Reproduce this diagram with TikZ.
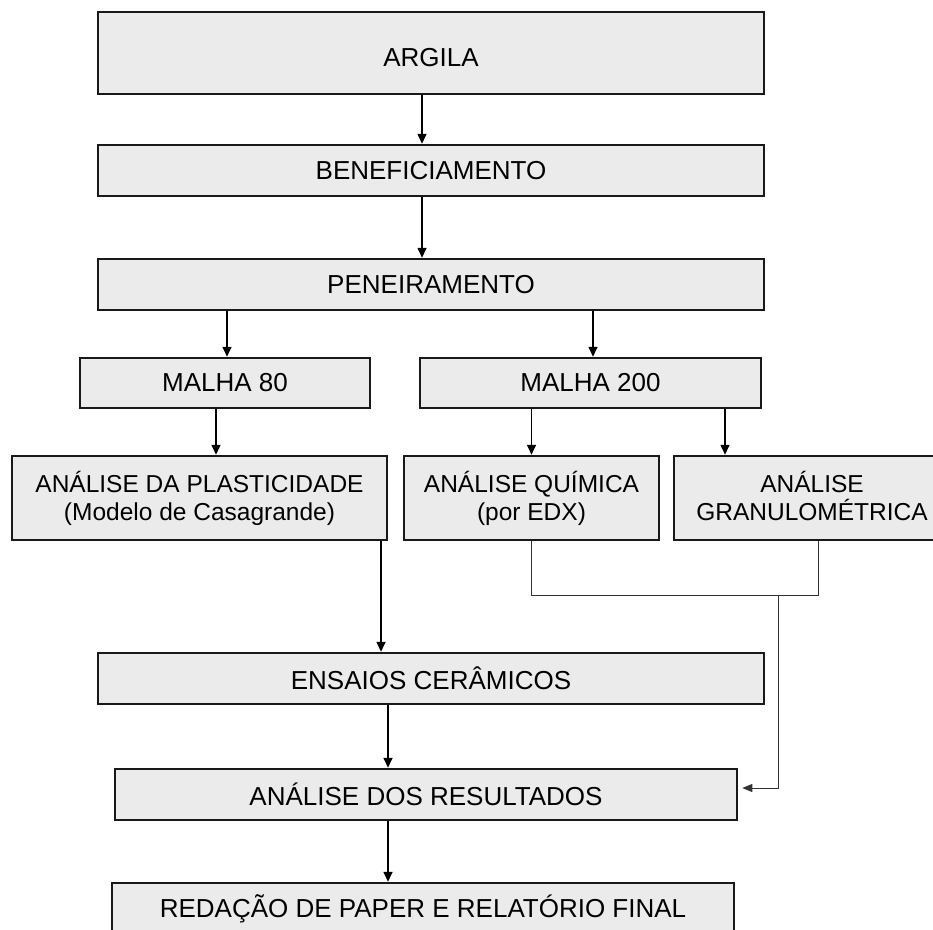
\documentclass[tikz,border=0pt]{standalone}
\usepackage{fontspec}
\setmainfont{Liberation Sans}
\usetikzlibrary{arrows.meta}
\definecolor{boxfill}{RGB}{235,235,235}
\definecolor{edge}{RGB}{25,25,25}
\begin{document}
\begin{tikzpicture}[x=1pt,y=-1pt,
  box/.style={draw=edge, line width=2.5pt, fill=boxfill, inner sep=0pt, align=center, font=\fontsize{26}{30}\selectfont},
  small/.style={font=\fontsize{24.5}{28}\selectfont},
  arr/.style={draw=black, line width=1.6pt, -{Triangle[length=10pt,width=9pt]}},
  thinline/.style={draw=black!80, line width=1pt},
  thinarr/.style={draw=black!80, line width=1pt, -{Triangle[length=10pt,width=8pt]}}]
\useasboundingbox (0,0) rectangle (933,929);
\clip (0,0) rectangle (933,929);

\node[box, minimum width=666pt, minimum height=82pt] (argila) at (431,53) {};
\node[font=\fontsize{26}{30}\selectfont] (argilatext) at (431,57.5) {ARGILA};
\node[box, minimum width=666pt, minimum height=51pt] (benef) at (431,170.5) {BENEFICIAMENTO};
\node[box, minimum width=666pt, minimum height=51pt] (pen) at (431,284.5) {PENEIRAMENTO};
\node[box, minimum width=290pt, minimum height=50pt] (m80) at (225,383) {MALHA 80};
\node[box, minimum width=341pt, minimum height=50pt] (m200) at (590.5,383) {MALHA 200};
\node[box, small, minimum width=375pt, minimum height=84pt] (plast) at (199.5,498) {ANÁLISE DA PLASTICIDADE\\(Modelo de Casagrande)};
\node[box, small, minimum width=255pt, minimum height=84pt] (quim) at (531.5,498) {ANÁLISE QUÍMICA\\(por EDX)};
\node[box, small, minimum width=276pt, minimum height=84pt] (gran) at (812,498) {ANÁLISE\\GRANULOMÉTRICA\vphantom{()}};
\node[box, minimum width=666pt, minimum height=51pt] (ensaios) at (431,678.5) {ENSAIOS CERÂMICOS};
\node[box, minimum width=622pt, minimum height=51pt] (result) at (426,794.5) {ANÁLISE DOS RESULTADOS};
\node[box, minimum width=622pt, minimum height=51pt] (redacao) at (423,908.5) {REDAÇÃO DE PAPER E RELATÓRIO FINAL};

\coordinate (a1) at ([xshift=-9pt]argila.south);
\draw[arr] (a1) -- (a1 |- benef.north);
\draw[arr] (a1 |- benef.south) -- (a1 |- pen.north);
\coordinate (c80) at ([xshift=2pt]m80.north);
\draw[arr] (c80 |- pen.south) -- (c80);
\coordinate (c200) at ([xshift=2.5pt]m200.north);
\draw[arr] (c200 |- pen.south) -- (c200);
\coordinate (cp) at ([xshift=16.5pt]plast.north);
\draw[arr] (cp |- m80.south) -- (cp);
\draw[arr] (quim.north |- m200.south) -- (quim.north);
\coordinate (cg) at ([xshift=-87pt]gran.north);
\draw[arr] (cg |- m200.south) -- (cg);
\coordinate (pe) at ([xshift=181.5pt]plast.south);
\draw[arr] (pe) -- (pe |- ensaios.north);
\coordinate (gb) at ([xshift=6pt]gran.south);
\coordinate (jn) at (778,595);
\draw[thinline] (quim.south) |- (jn) -| (gb);
\coordinate (rin) at ([xshift=4pt,yshift=6.5pt]result.east);
\draw[thinarr] (jn) |- (rin);
\coordinate (er) at ([xshift=-43pt]ensaios.south);
\draw[arr] (er) -- (er |- result.north);
\draw[arr] (er |- result.south) -- (er |- redacao.north);
\end{tikzpicture}
\end{document}
